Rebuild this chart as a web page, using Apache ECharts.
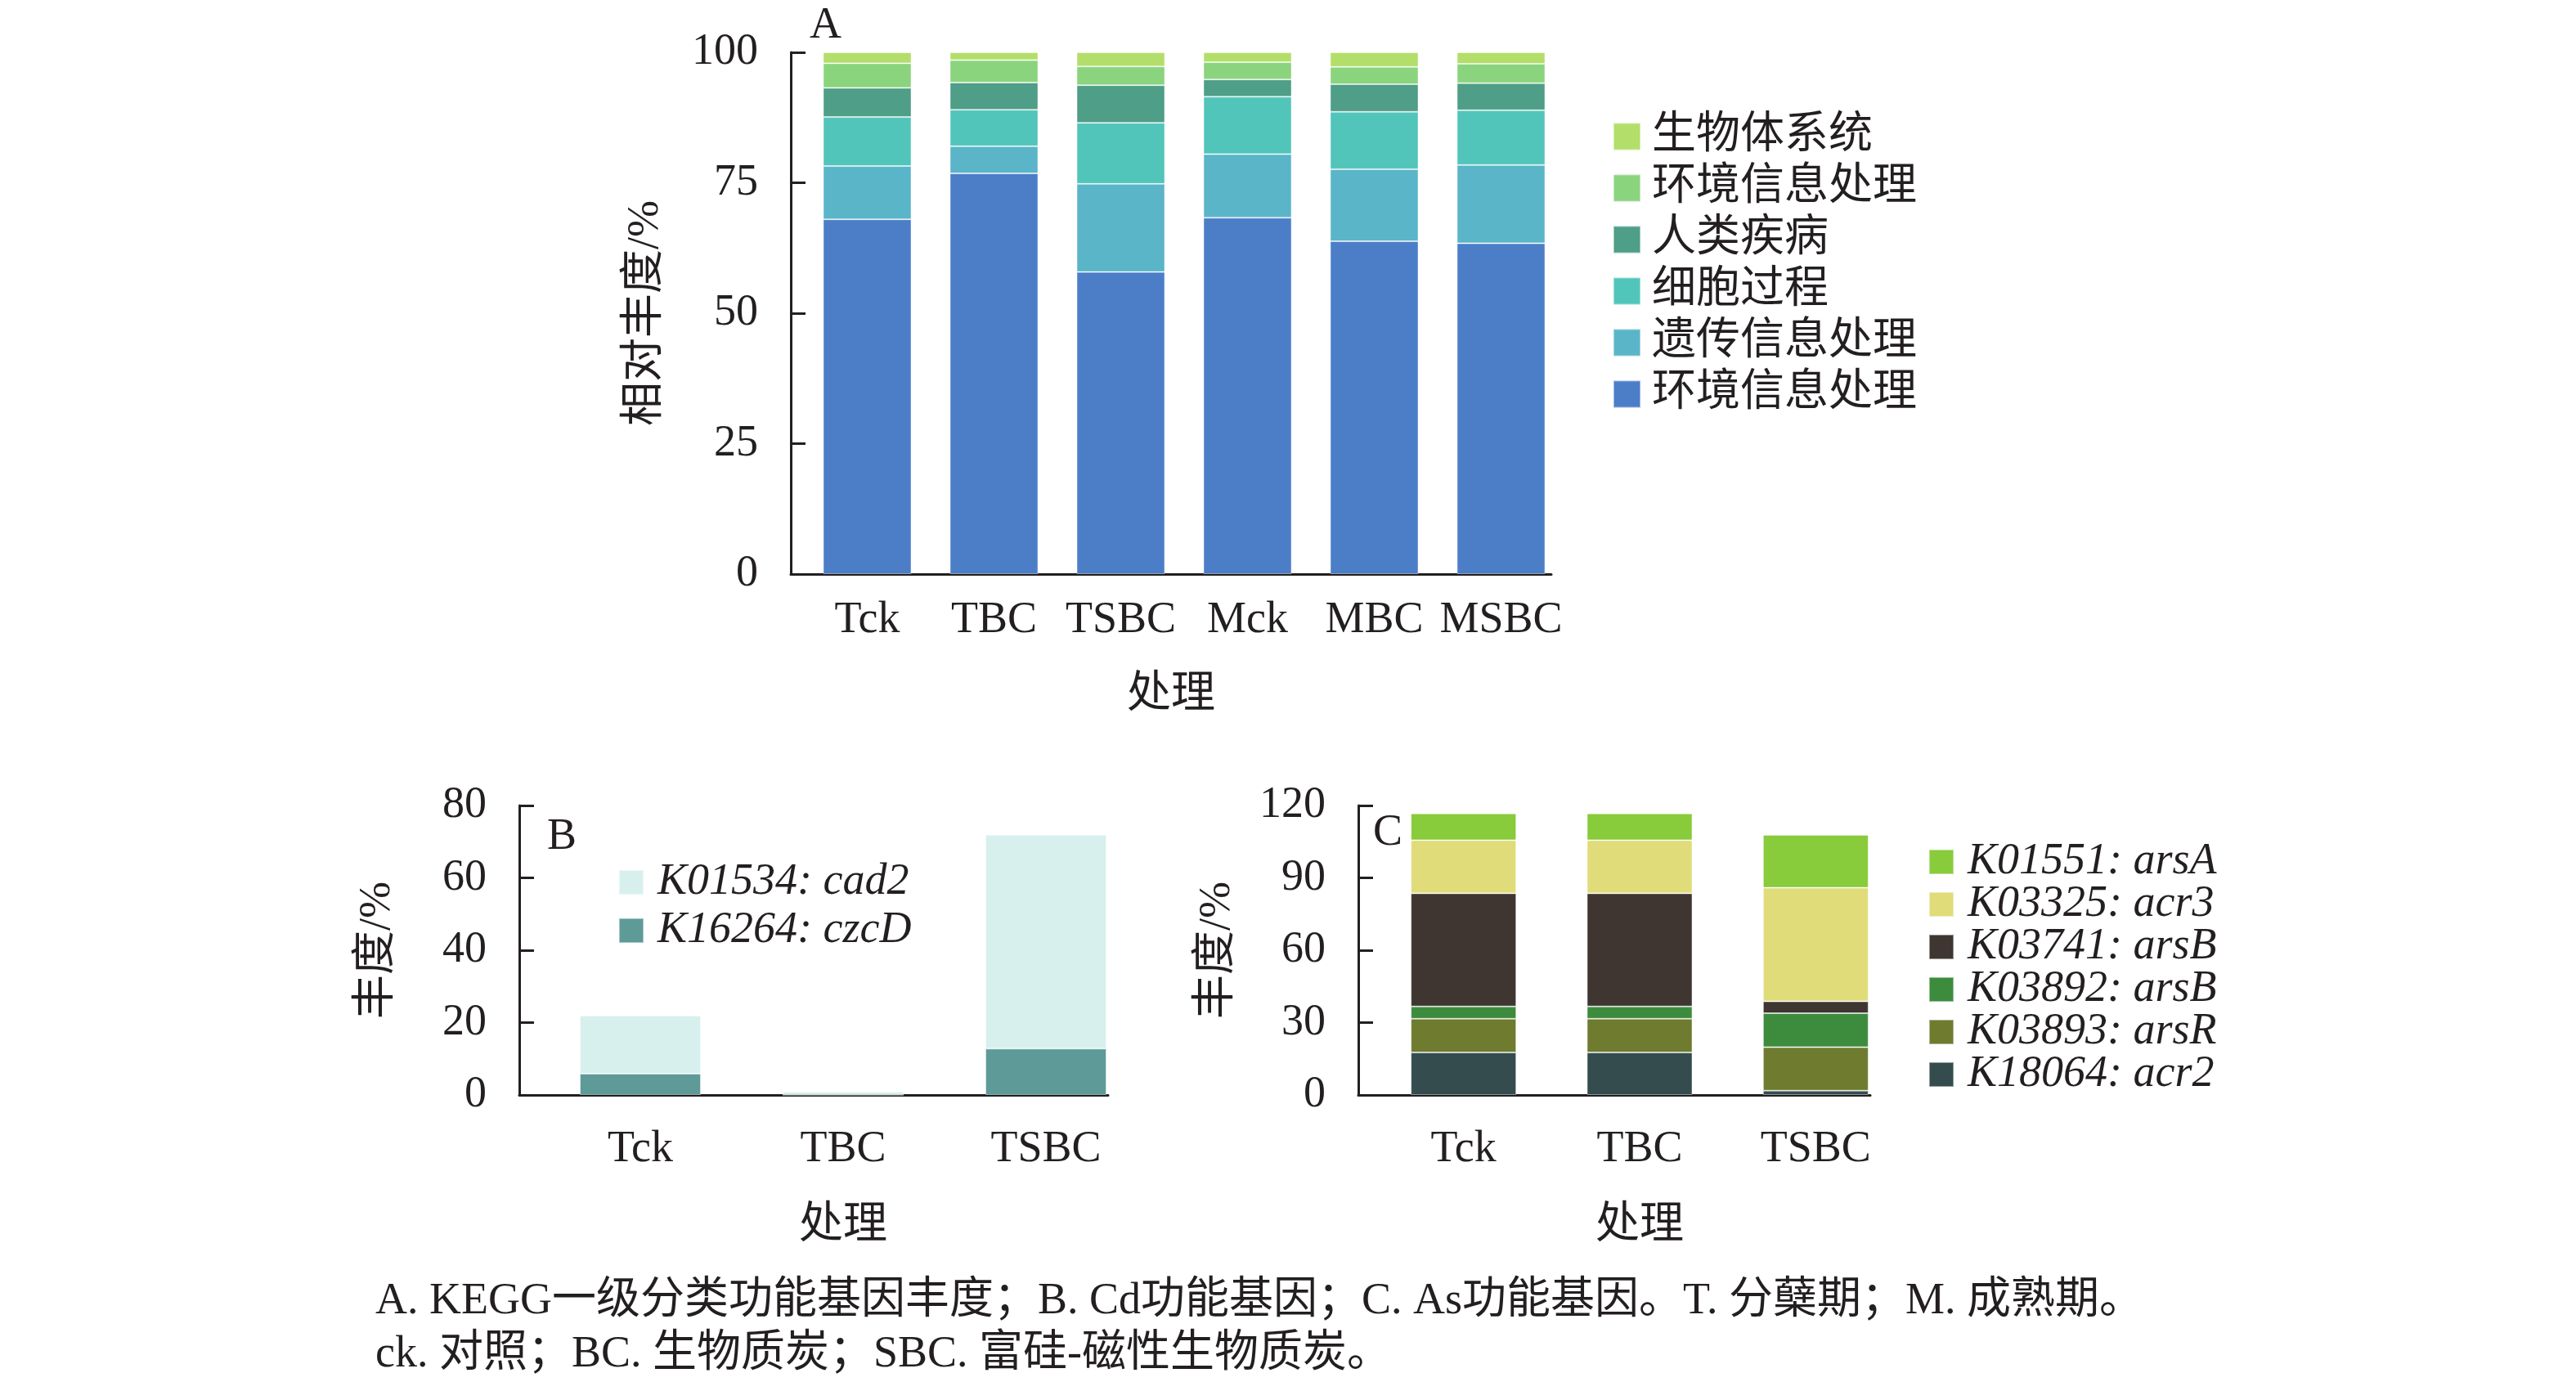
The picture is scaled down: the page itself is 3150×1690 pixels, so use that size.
<!DOCTYPE html>
<html>
<head>
<meta charset="utf-8">
<title>KEGG 功能基因丰度</title>
<script src="https://cdn.jsdelivr.net/npm/echarts@6/dist/echarts.min.js"></script>
<style>
  html, body { margin: 0; padding: 0; background: #fff; }
  #charts { width: 3150px; height: 1690px; }
</style>
</head>
<body>
<div id="charts"></div>
<script>
// 图A：KEGG一级分类
var catsA = ['Tck', 'TBC', 'TSBC', 'Mck', 'MBC', 'MSBC'];
var blueA = [68.0, 76.8, 57.9, 68.3, 63.8, 63.4];     // 环境信息处理（蓝）
var geneticA = [10.2, 5.2, 16.9, 12.2, 13.8, 15.0];   // 遗传信息处理
var cellularA = [9.4, 7.0, 11.7, 11.0, 11.0, 10.5];   // 细胞过程
var diseaseA = [5.6, 5.2, 7.2, 3.3, 5.3, 5.2];        // 人类疾病
var envA = [4.7, 4.3, 3.6, 3.3, 3.3, 3.7];            // 环境信息处理（浅绿）
var organA = [2.1, 1.5, 2.7, 1.9, 2.8, 2.2];          // 生物体系统
var ticksA = [0, 25, 50, 75, 100];

// 图B：Cd功能基因
var catsB = ['Tck', 'TBC', 'TSBC'];
var czcD = [5.9, 0, 12.8];
var cad2 = [16.0, 0.9, 59.1];
var ticksB = [0, 20, 40, 60, 80];

// 图C：As功能基因
var catsC = ['Tck', 'TBC', 'TSBC'];
var acr2 = [17.6, 17.6, 1.8];
var arsR = [14.0, 14.0, 18.0];
var arsB3892 = [5.1, 5.1, 14.1];
var arsB3741 = [46.9, 46.9, 4.9];
var acr3 = [22.0, 22.0, 47.1];
var arsA = [11.1, 11.1, 21.9];
var ticksC = [0, 30, 60, 90, 120];

var FONT = "'Liberation Serif', 'Noto Sans CJK SC', serif";
var INK = '#231f20';
var FS = 54;

var chart = echarts.init(document.getElementById('charts'));

function axisX(grid, cats, opts) {
	var o = {
		type: 'category', gridIndex: grid, data: cats,
		axisLine: { show: opts.line, lineStyle: { color: INK, width: 3 } },
		axisTick: { show: false },
		axisLabel: { show: opts.label, interval: 0, color: INK, fontFamily: FONT, fontSize: FS, margin: opts.margin || 30 }
	};
	if (opts.name) {
		o.name = '处理';
		o.nameLocation = 'middle';
		o.nameGap = opts.nameGap;
		o.nameTextStyle = { color: INK, fontFamily: FONT, fontSize: FS };
	}
	return o;
}

function axisY(grid, ticks, opts) {
	var o = {
		type: 'value', gridIndex: grid,
		min: ticks[0], max: ticks[ticks.length - 1], interval: ticks[1] - ticks[0],
		show: opts.show,
		splitLine: { show: false },
		axisLine: { show: true, lineStyle: { color: INK, width: 3 } },
		axisTick: { show: true, inside: true, length: 18, lineStyle: { color: INK, width: 3 } },
		axisLabel: { color: INK, fontFamily: FONT, fontSize: FS, margin: 40, padding: [0, 0, 12, 0] }
	};
	if (opts.name) {
		o.name = opts.name;
		o.nameLocation = 'middle';
		o.nameGap = opts.nameGap;
		o.nameTextStyle = { color: INK, fontFamily: FONT, fontSize: FS };
	}
	return o;
}

function bar(name, data, color, xi, stack, width) {
	return {
		name: name, type: 'bar', stack: stack, data: data,
		xAxisIndex: xi, yAxisIndex: xi, barWidth: width,
		itemStyle: { color: color, borderColor: 'rgba(255,255,255,0.45)', borderWidth: 1 },
		emphasis: { disabled: true },
		animation: false
	};
}

option = {
	backgroundColor: '#fff',
	animation: false,
	title: [
		{ text: 'A', left: 985, top: 0, textStyle: { color: INK, fontFamily: FONT, fontSize: FS, fontWeight: 'normal' } },
		{ text: 'B', left: 664, top: 992, textStyle: { color: INK, fontFamily: FONT, fontSize: FS, fontWeight: 'normal' } },
		{ text: 'C', left: 1674, top: 987, textStyle: { color: INK, fontFamily: FONT, fontSize: FS, fontWeight: 'normal' } },
		{
			text: 'A. KEGG一级分类功能基因丰度；B. Cd功能基因；C. As功能基因。T. 分蘖期；M. 成熟期。\nck. 对照；BC. 生物质炭；SBC. 富硅-磁性生物质炭。',
			left: 454, top: 1554,
			textStyle: { color: INK, fontFamily: FONT, fontSize: FS, fontWeight: 'normal', lineHeight: 65 }
		}
	],
	grid: [
		{ left: 967, top: 64, width: 930, height: 638 },   // A 轴线
		{ left: 983, top: 64, width: 930, height: 638 },   // A 柱
		{ left: 635, top: 985, width: 720, height: 354 },  // B 轴线
		{ left: 659, top: 985, width: 744, height: 354 },  // B 柱
		{ left: 1661, top: 985, width: 626, height: 354 }, // C 轴线
		{ left: 1682, top: 985, width: 646, height: 354 }  // C 柱
	],
	xAxis: [
		axisX(0, catsA, { line: true, label: false, name: true, nameGap: 122 }),
		axisX(1, catsA, { line: false, label: true, margin: 30 }),
		axisX(2, catsB, { line: true, label: false }),
		axisX(3, catsB, { line: false, label: true, margin: 40, name: true, nameGap: 134 }),
		axisX(4, catsC, { line: true, label: false }),
		axisX(5, catsC, { line: false, label: true, margin: 40, name: true, nameGap: 134 })
	],
	yAxis: [
		axisY(0, ticksA, { show: true, name: '相对丰度/%', nameGap: 150 }),
		axisY(1, ticksA, { show: false }),
		axisY(2, ticksB, { show: true, name: '丰度/%', nameGap: 146 }),
		axisY(3, ticksB, { show: false }),
		axisY(4, ticksC, { show: true, name: '丰度/%', nameGap: 145 }),
		axisY(5, ticksC, { show: false })
	],
	legend: [
		{
			left: 1967, top: 135, orient: 'vertical',
			itemWidth: 33, itemHeight: 33, itemGap: 9,
			icon: 'rect', selectedMode: false,
			textStyle: { color: INK, fontFamily: FONT, fontSize: FS, lineHeight: 54, padding: [0, 0, 0, 9] },
			formatter: function (name) { return name.trim(); },
			data: ['生物体系统', '环境信息处理', '人类疾病', '细胞过程', '遗传信息处理', '环境信息处理 ']
		},
		{
			left: 751, top: 1047, orient: 'vertical',
			itemWidth: 30, itemHeight: 30, itemGap: 5,
			icon: 'rect', selectedMode: false,
			textStyle: { color: INK, fontFamily: FONT, fontSize: FS, fontStyle: 'italic', lineHeight: 54, padding: [0, 0, 0, 12] },
			data: ['K01534: cad2', 'K16264: czcD']
		},
		{
			left: 2353, top: 1022, orient: 'vertical',
			itemWidth: 30, itemHeight: 30, itemGap: -2,
			icon: 'rect', selectedMode: false,
			textStyle: { color: INK, fontFamily: FONT, fontSize: FS, fontStyle: 'italic', lineHeight: 54, padding: [0, 0, 0, 12] },
			data: ['K01551: arsA', 'K03325: acr3', 'K03741: arsB', 'K03892: arsB', 'K03893: arsR', 'K18064: acr2']
		}
	],
	series: [
		bar('环境信息处理 ', blueA, '#4c7ec8', 1, 'a', 108),
		bar('遗传信息处理', geneticA, '#5bb5c8', 1, 'a', 108),
		bar('细胞过程', cellularA, '#52c5bb', 1, 'a', 108),
		bar('人类疾病', diseaseA, '#4f9e87', 1, 'a', 108),
		bar('环境信息处理', envA, '#8ad47e', 1, 'a', 108),
		bar('生物体系统', organA, '#b3de6a', 1, 'a', 108),

		bar('K16264: czcD', czcD, '#5e9a98', 3, 'b', 148),
		bar('K01534: cad2', cad2, '#d7f0ee', 3, 'b', 148),

		bar('K18064: acr2', acr2, '#344c4e', 5, 'c', 129),
		bar('K03893: arsR', arsR, '#6f7b2f', 5, 'c', 129),
		bar('K03892: arsB', arsB3892, '#3d8c3e', 5, 'c', 129),
		bar('K03741: arsB', arsB3741, '#3f3631', 5, 'c', 129),
		bar('K03325: acr3', acr3, '#e0dc7a', 5, 'c', 129),
		bar('K01551: arsA', arsA, '#88cb3b', 5, 'c', 129)
	]
};
chart.setOption(option);
</script>
</body>
</html>
